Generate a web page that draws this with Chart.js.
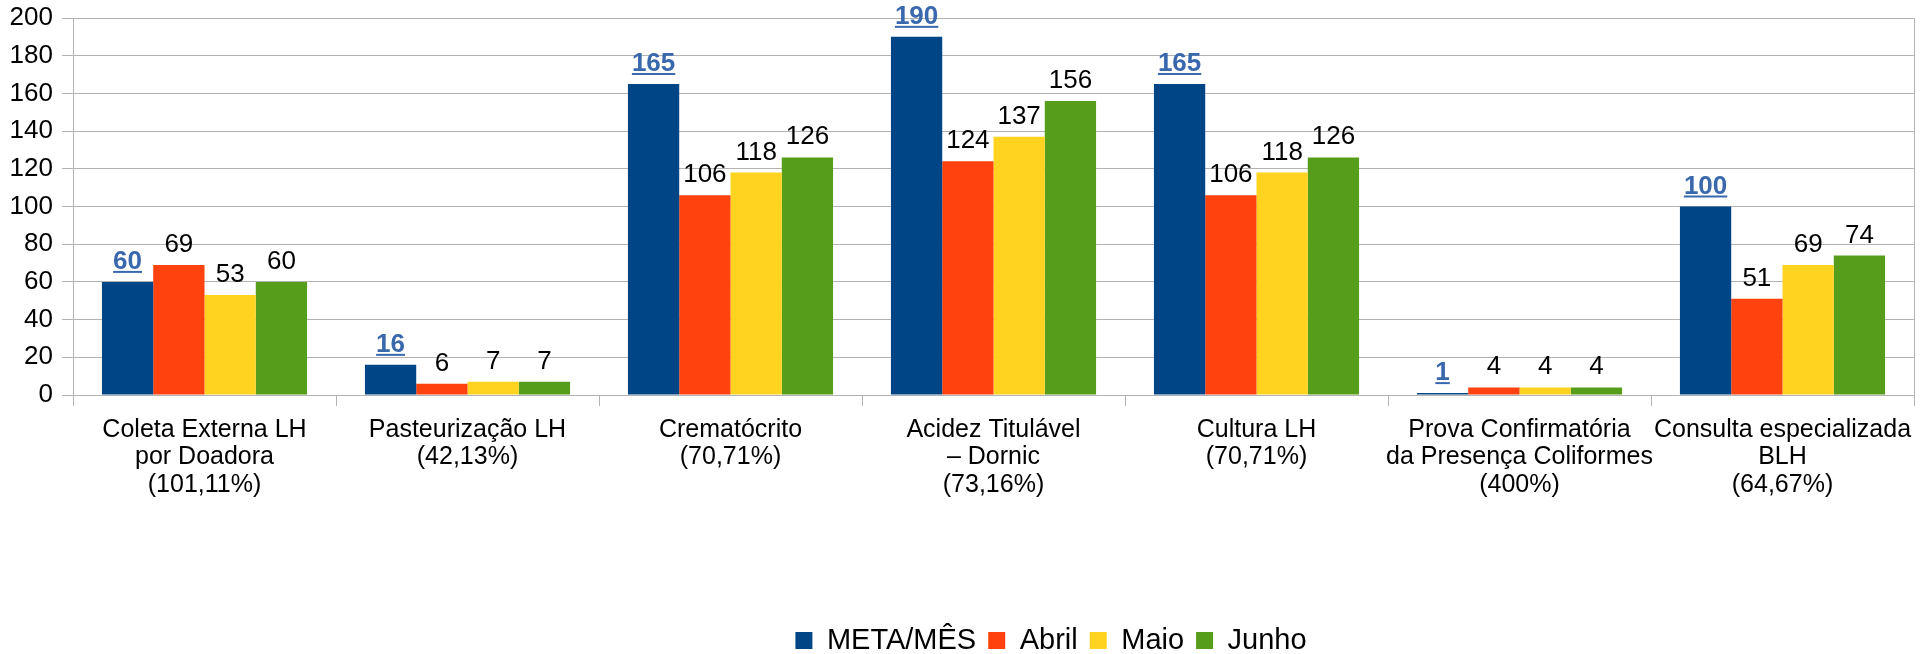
<!DOCTYPE html>
<html>
<head>
<meta charset="utf-8">
<script src="https://cdn.jsdelivr.net/npm/chart.js@4/dist/chart.umd.min.js"></script>
<style>
  html, body { margin: 0; padding: 0; background: #ffffff; }
  canvas { display: block; }
</style>
</head>
<body>
<canvas id="c" width="1932" height="654"></canvas>
<script>
const categories = [
  ["Coleta Externa LH", "por Doadora", "(101,11%)"],
  ["Pasteurização LH", "(42,13%)"],
  ["Crematócrito", "(70,71%)"],
  ["Acidez Titulável", "– Dornic", "(73,16%)"],
  ["Cultura LH", "(70,71%)"],
  ["Prova Confirmatória", "da Presença Coliformes", "(400%)"],
  ["Consulta especializada", "BLH", "(64,67%)"]
];
const seriesNames = ["META/MÊS", "Abril", "Maio", "Junho"];
const metaMes = [60, 16, 165, 190, 165, 1, 100];
const abril   = [69, 6, 106, 124, 106, 4, 51];
const maio    = [53, 7, 118, 137, 118, 4, 69];
const junho   = [60, 7, 126, 156, 126, 4, 74];
const yMin = 0, yMax = 200, yStep = 20;

const colors = ["#004586", "#ff420e", "#ffd320", "#579d1c"];
const FONT = '"Liberation Sans", Arial, sans-serif';
const GRID = "#b3b3b3";

const valueLabels = {
  id: "valueLabels",
  afterDatasetsDraw(chart) {
    const ctx = chart.ctx;
    chart.data.datasets.forEach((ds, di) => {
      const meta = chart.getDatasetMeta(di);
      const isMeta = di === 0;
      ctx.save();
      ctx.font = (isMeta ? "bold " : "") + "26px " + FONT;
      ctx.fillStyle = isMeta ? "#3a68ad" : "#000000";
      ctx.textAlign = "center";
      ctx.textBaseline = "alphabetic";
      meta.data.forEach((bar, i) => {
        const txt = String(ds.data[i]);
        const y = bar.y - 13;
        ctx.fillText(txt, bar.x, y);
        if (isMeta) {
          const w = ctx.measureText(txt).width;
          ctx.fillRect(bar.x - w / 2, y + 2, w, 2);
        }
      });
      ctx.restore();
    });
  }
};

const legendShift = {
  id: "legendShift",
  afterLayout(chart) {
    const lg = chart.legend;
    if (!lg) return;
    lg.left += 94; lg.right += 94;
    lg.top += 11; lg.bottom += 11;
  }
};

new Chart(document.getElementById("c"), {
  type: "bar",
  data: {
    labels: categories,
    datasets: [
      { label: seriesNames[0], data: metaMes, backgroundColor: colors[0] },
      { label: seriesNames[1], data: abril,   backgroundColor: colors[1] },
      { label: seriesNames[2], data: maio,    backgroundColor: colors[2] },
      { label: seriesNames[3], data: junho,   backgroundColor: colors[3] }
    ]
  },
  options: {
    responsive: false,
    animation: false,
    devicePixelRatio: 1,
    layout: { padding: { top: 18, right: 18, left: 0, bottom: 0 } },
    datasets: { bar: { categoryPercentage: 0.78, barPercentage: 1.0, borderWidth: 0 } },
    plugins: {
      tooltip: { enabled: false },
      legend: {
        position: "bottom",
        labels: {
          color: "#000000",
          font: { family: FONT, size: 29 },
          boxWidth: 17,
          boxHeight: 17,
          padding: 12
        }
      }
    },
    scales: {
      x: {
        grid: {
          display: true,
          drawOnChartArea: false,
          drawTicks: true,
          tickLength: 11,
          tickColor: GRID,
          offset: true
        },
        border: { display: true, color: GRID, width: 1 },
        ticks: {
          color: "#000000",
          font: { family: FONT, size: 25, lineHeight: 1.1 },
          padding: 10,
          maxRotation: 0,
          autoSkip: false
        },
        afterFit(s) { s.height = 208; }
      },
      y: {
        min: yMin, max: yMax,
        grid: { color: GRID, lineWidth: 1, tickLength: 11, tickColor: GRID },
        border: { display: true, color: GRID, width: 1 },
        ticks: {
          stepSize: yStep,
          color: "#000000",
          font: { family: FONT, size: 26 },
          padding: 9
        },
        afterFit(s) { s.width = 73; s.paddingTop = 12; s.paddingBottom = 12; }
      },
      y2: {
        position: "right",
        min: yMin, max: yMax,
        grid: { display: false },
        border: { display: true, color: GRID, width: 1 },
        ticks: { display: false },
        afterFit(s) { s.width = 0; s.paddingTop = 0; s.paddingBottom = 0; }
      }
    }
  },
  plugins: [valueLabels, legendShift]
});
</script>
</body>
</html>
